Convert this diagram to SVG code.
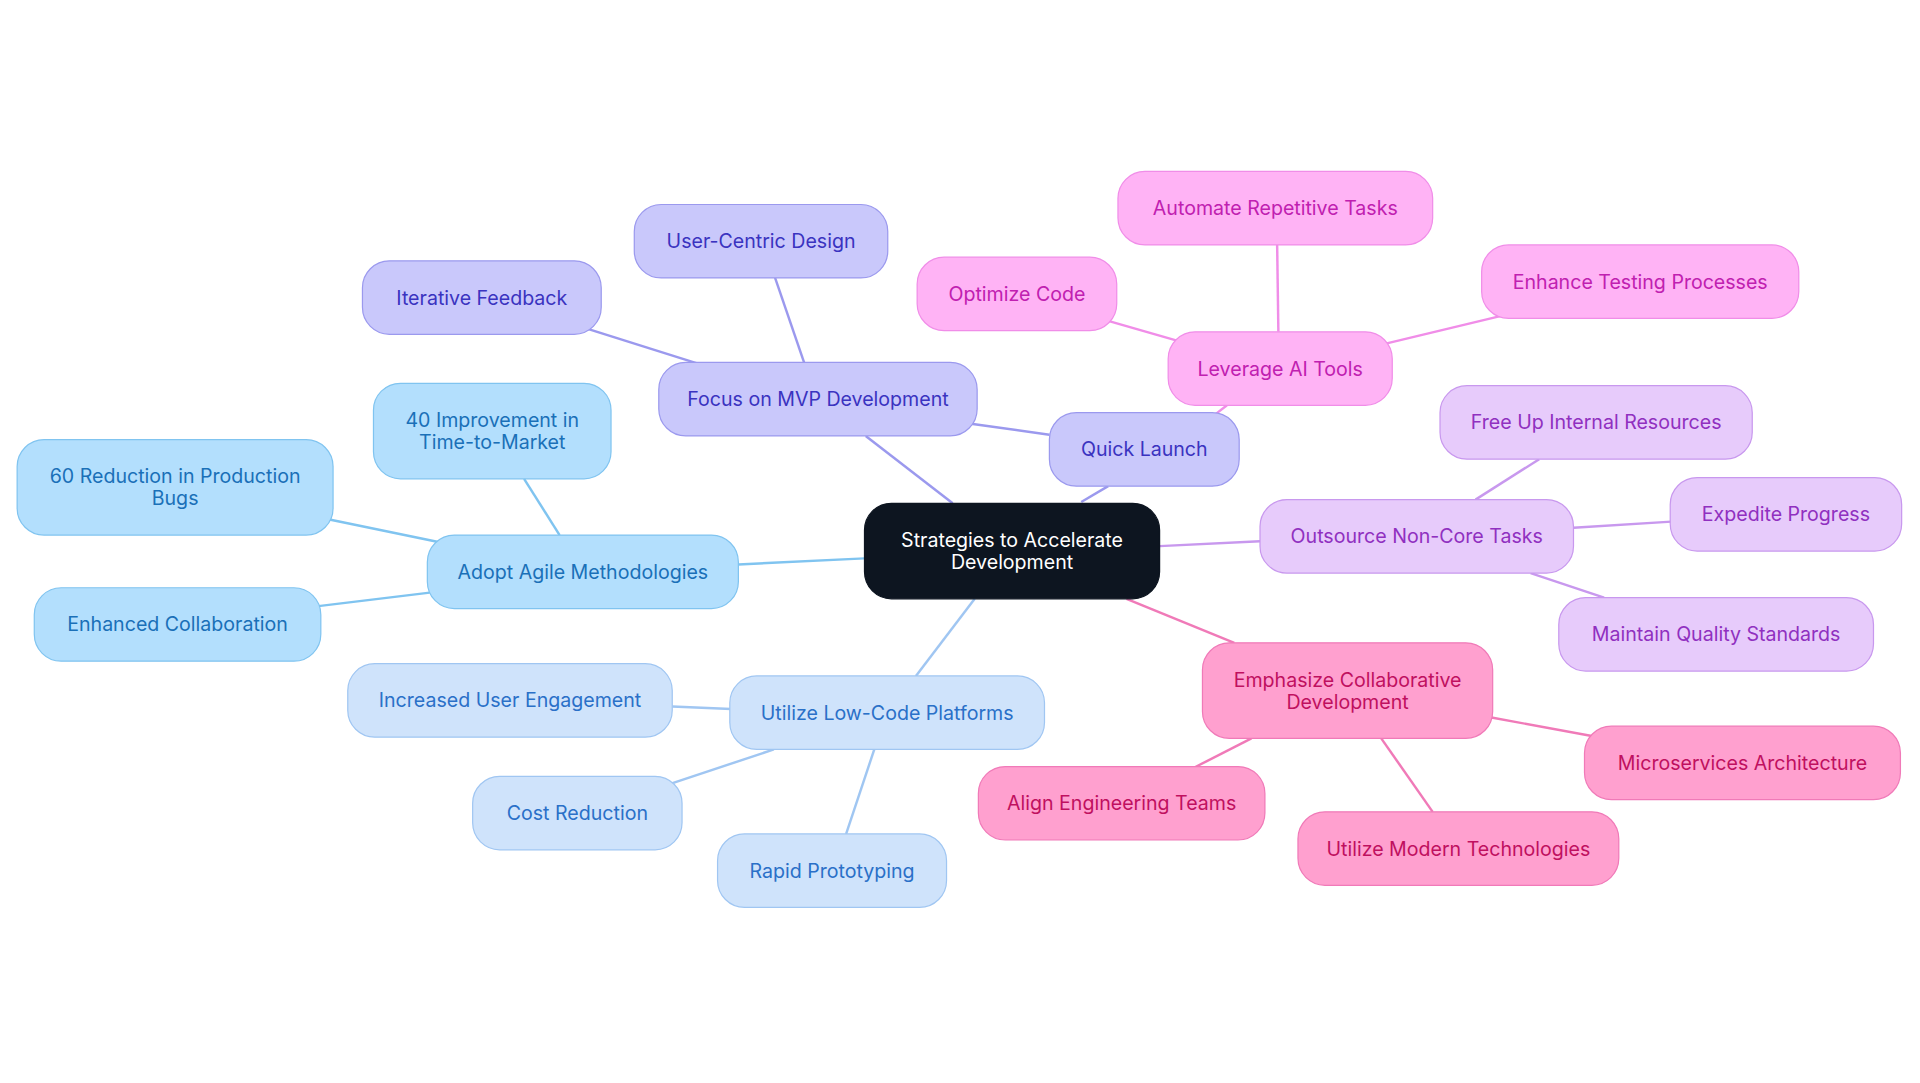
<svg xmlns="http://www.w3.org/2000/svg" width="1920" height="1083" viewBox="0 0 1920 1083">
<style>
text{font-family:Inter,"Noto Sans",sans-serif;font-size:16px;text-anchor:middle;dominant-baseline:central}
rect{stroke-width:1}
.e line{stroke-width:2}
.c rect{fill:#0d1520;stroke:#0d1520}.c text{fill:#fff}
.p rect{fill:#c9c8fb;stroke:#9b99ee}.p text{fill:#3a33c0}
.k rect{fill:#ffb3f5;stroke:#f08de8}.k text{fill:#c020b0}
.v rect{fill:#e7cbfb;stroke:#c898ee}.v text{fill:#9030c0}
.r rect{fill:#ffa0cf;stroke:#f07ab8}.r text{fill:#c0105f}
.l rect{fill:#cfe3fb;stroke:#a0c6f2}.l text{fill:#2a70c8}
.b rect{fill:#b3dffd;stroke:#80c4f0}.b text{fill:#1a70b8}
</style>
<rect width="1920" height="1083" fill="#fff"/>
<g transform="scale(1.2245)">
<g id="connectors" class="e">
<g stroke="#9b99ee"><line x1="883" y1="410" x2="905" y2="397"/><line x1="857" y1="355" x2="793" y2="346"/><line x1="657" y1="297" x2="633" y2="227"/><line x1="570" y1="297" x2="478" y2="268"/><line x1="778" y1="411" x2="707" y2="356"/></g>
<g stroke="#f08de8"><line x1="993" y1="338" x2="1002" y2="331"/><line x1="1044" y1="271" x2="1043" y2="200"/><line x1="964" y1="279" x2="905" y2="262"/><line x1="1130" y1="281" x2="1226" y2="258"/></g>
<g stroke="#c898ee"><line x1="947" y1="446" x2="1029" y2="442"/><line x1="1205" y1="408" x2="1257" y2="375"/><line x1="1285" y1="431" x2="1365" y2="426"/><line x1="1250" y1="468" x2="1310" y2="488"/></g>
<g stroke="#f07ab8"><line x1="920" y1="489" x2="1008" y2="525"/><line x1="1218" y1="586" x2="1300" y2="601"/><line x1="1128" y1="603" x2="1170" y2="663"/><line x1="1022" y1="603" x2="975" y2="627"/></g>
<g stroke="#a0c6f2"><line x1="796" y1="489" x2="748" y2="552"/><line x1="549" y1="577" x2="597" y2="579"/><line x1="548" y1="640" x2="632" y2="612"/><line x1="714" y1="612" x2="691" y2="681"/></g>
<g stroke="#80c4f0"><line x1="706" y1="456" x2="603" y2="461"/><line x1="457" y1="437" x2="428" y2="391"/><line x1="360" y1="443" x2="268" y2="424"/><line x1="351" y1="484" x2="260" y2="495"/></g>
</g>
<g id="center" class="c"><rect x="706" y="411" width="241" height="78" rx="22"/><text x="826.5" y="441">Strategies to Accelerate</text><text x="826.5" y="459">Development</text></g>
<g id="quick" class="p"><rect x="857" y="337" width="155" height="60" rx="22"/><text x="934.5" y="367">Quick Launch</text></g>
<g id="mvp" class="p"><rect x="538" y="296" width="260" height="60" rx="22"/><text x="668" y="326">Focus on MVP Development</text></g>
<g id="ucd" class="p"><rect x="518" y="167" width="207" height="60" rx="22"/><text x="621.5" y="197">User-Centric Design</text></g>
<g id="iter" class="p"><rect x="296" y="213" width="195" height="60" rx="22"/><text x="393.5" y="243">Iterative Feedback</text></g>
<g id="ai" class="k"><rect x="954" y="271" width="183" height="60" rx="22"/><text x="1045.5" y="301">Leverage AI Tools</text></g>
<g id="auto" class="k"><rect x="913" y="140" width="257" height="60" rx="22"/><text x="1041.5" y="170">Automate Repetitive Tasks</text></g>
<g id="opt" class="k"><rect x="749" y="210" width="163" height="60" rx="22"/><text x="830.5" y="240">Optimize Code</text></g>
<g id="test" class="k"><rect x="1210" y="200" width="259" height="60" rx="22"/><text x="1339.5" y="230">Enhance Testing Processes</text></g>
<g id="out" class="v"><rect x="1029" y="408" width="256" height="60" rx="22"/><text x="1157" y="438">Outsource Non-Core Tasks</text></g>
<g id="free" class="v"><rect x="1176" y="315" width="255" height="60" rx="22"/><text x="1303.5" y="345">Free Up Internal Resources</text></g>
<g id="exp" class="v"><rect x="1364" y="390" width="189" height="60" rx="22"/><text x="1458.5" y="420">Expedite Progress</text></g>
<g id="qual" class="v"><rect x="1273" y="488" width="257" height="60" rx="22"/><text x="1401.5" y="518">Maintain Quality Standards</text></g>
<g id="collab" class="r"><rect x="982" y="525" width="237" height="78" rx="22"/><text x="1100.5" y="555">Emphasize Collaborative</text><text x="1100.5" y="573">Development</text></g>
<g id="micro" class="r"><rect x="1294" y="593" width="258" height="60" rx="22"/><text x="1423" y="623">Microservices Architecture</text></g>
<g id="modern" class="r"><rect x="1060" y="663" width="262" height="60" rx="22"/><text x="1191" y="693">Utilize Modern Technologies</text></g>
<g id="align" class="r"><rect x="799" y="626" width="234" height="60" rx="22"/><text x="916" y="656">Align Engineering Teams</text></g>
<g id="lowcode" class="l"><rect x="596" y="552" width="257" height="60" rx="22"/><text x="724.5" y="582">Utilize Low-Code Platforms</text></g>
<g id="engage" class="l"><rect x="284" y="542" width="265" height="60" rx="22"/><text x="416.5" y="572">Increased User Engagement</text></g>
<g id="cost" class="l"><rect x="386" y="634" width="171" height="60" rx="22"/><text x="471.5" y="664">Cost Reduction</text></g>
<g id="rapid" class="l"><rect x="586" y="681" width="187" height="60" rx="22"/><text x="679.5" y="711">Rapid Prototyping</text></g>
<g id="agile" class="b"><rect x="349" y="437" width="254" height="60" rx="22"/><text x="476" y="467">Adopt Agile Methodologies</text></g>
<g id="imp40" class="b"><rect x="305" y="313" width="194" height="78" rx="22"/><text x="402" y="343">40 Improvement in</text><text x="402" y="361">Time-to-Market</text></g>
<g id="red60" class="b"><rect x="14" y="359" width="258" height="78" rx="22"/><text x="143" y="389">60 Reduction in Production</text><text x="143" y="407">Bugs</text></g>
<g id="enh" class="b"><rect x="28" y="480" width="234" height="60" rx="22"/><text x="145" y="510">Enhanced Collaboration</text></g>
</g>
</svg>
